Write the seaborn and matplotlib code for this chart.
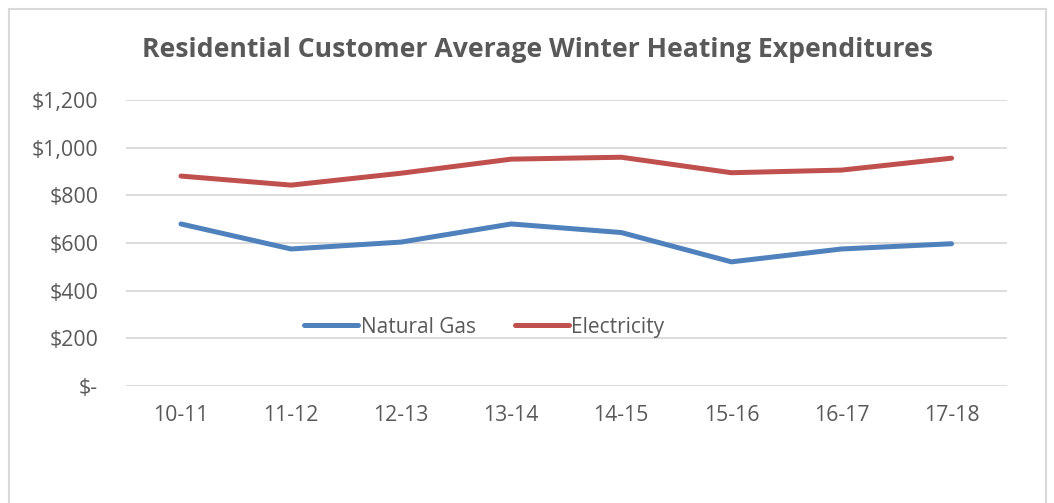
import pandas as pd
import matplotlib.pyplot as plt
import seaborn as sns
from matplotlib.patches import Rectangle
from matplotlib.ticker import FuncFormatter

seasons = ["10-11", "11-12", "12-13", "13-14", "14-15", "15-16", "16-17", "17-18"]
natural_gas = [680, 575, 604, 680, 644, 521, 575, 597]
electricity = [881, 843, 893, 952, 960, 895, 906, 956]

df = pd.DataFrame({
    "Season": seasons * 2,
    "Cost": natural_gas + electricity,
    "Fuel": ["Natural Gas"] * len(seasons) + ["Electricity"] * len(seasons),
})

sns.set_style("white")
plt.rcParams['font.family'] = ['Open Sans', 'DejaVu Sans']

grey = "#595959"
fig = plt.figure(figsize=(10.54, 5.03), dpi=100)
ax = fig.add_axes([0.1195, 0.2326, 0.8355, 0.5685])

sns.lineplot(data=df, x="Season", y="Cost", hue="Fuel",
             palette={"Natural Gas": "#4F81BD", "Electricity": "#C0504D"},
             linewidth=3.6, ax=ax, sort=False, solid_capstyle="round")

ax.set_ylim(0, 1200)
ax.set_xlim(-0.5, 7.5)
ax.set_yticks(range(0, 1201, 200))
ax.yaxis.set_major_formatter(FuncFormatter(lambda v, p: "$-" if v == 0 else f"${v:,.0f}"))
ax.grid(axis="y", color="#D9D9D9", linewidth=1.3)
ax.set_axisbelow(True)
for s in ax.spines.values():
    s.set_visible(False)
ax.tick_params(axis="both", length=0, labelsize=15.3, colors=grey)
ax.tick_params(axis="y", pad=20)
ax.tick_params(axis="x", pad=14)
ax.set_xlabel("")
ax.set_ylabel("")

leg = ax.legend(loc="center", bbox_to_anchor=(0.407, 0.206), ncol=2, frameon=False,
                fontsize=15, handlelength=2.6, handletextpad=0.1, columnspacing=1.9)
for t in leg.get_texts():
    t.set_color(grey)

fig.text(0.51, 0.9, "Residential Customer Average Winter Heating Expenditures",
         ha="center", va="center", fontsize=19.2, fontweight="bold", color=grey)

fig.patches.append(Rectangle((9 / 1054, -0.1), 1037 / 1054, 1.1 - 9 / 503,
                             transform=fig.transFigure, fill=False,
                             edgecolor="#D9D9D9", linewidth=1.5))

fig.savefig("out.png", dpi=100)
